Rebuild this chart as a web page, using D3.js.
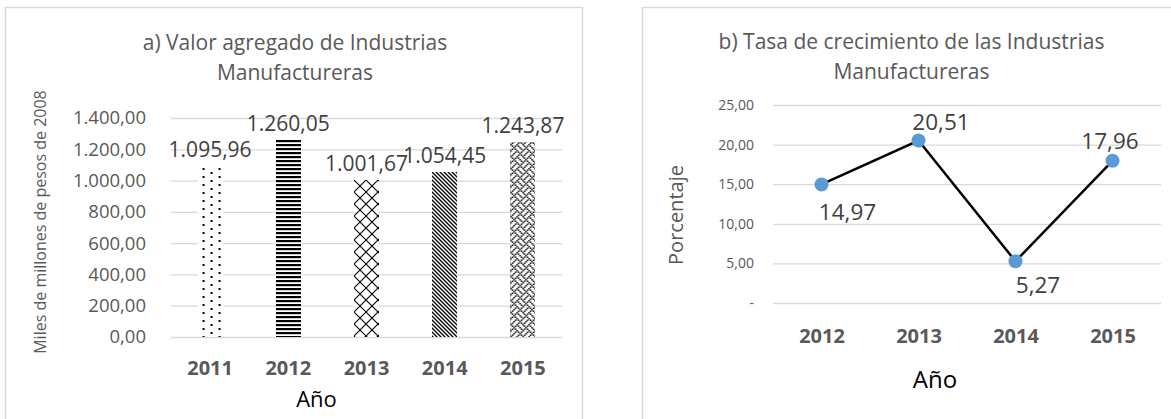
<!DOCTYPE html>
<html>
<head>
<meta charset="utf-8"/>
<title>Industrias Manufactureras</title>
<script src="https://cdn.jsdelivr.net/npm/d3@7"></script>
<style>
html, body {
    margin: 0;
    padding: 0;
    background: #ffffff;
}
svg text {
    font-family: "Open Sans", sans-serif;
}
.grid line {
    stroke: #d9d9d9;
    stroke-width: 1.3px;
}
.grid .domain {
    display: none;
}
</style>
</head>
<body>

<svg id="chart" width="1171" height="419"></svg>

<script>

// a) valor agregado (miles de millones de pesos de 2008)
var yearsA = ["2011", "2012", "2013", "2014", "2015"];
var valorAgregado = [1095.96, 1260.05, 1001.67, 1054.45, 1243.87];
var ticksA = [0, 200, 400, 600, 800, 1000, 1200, 1400];

// b) tasa de crecimiento (%)
var yearsB = ["2012", "2013", "2014", "2015"];
var tasa = [14.97, 20.51, 5.27, 17.96];
var ticksB = [0, 5, 10, 15, 20, 25];

var es = d3.formatLocale({decimal: ",", thousands: ".", grouping: [3], currency: ["", ""]});
var fmt = es.format(",.2f");

var svg = d3.select("#chart");
var defs = svg.append("defs");

// Panel frames (they run past the bottom edge of the picture).
svg.append("rect").attr("x", 5.5).attr("y", 7.5).attr("width", 577).attr("height", 430)
    .attr("fill", "none").attr("stroke", "#d9d9d9").attr("stroke-width", 1.5);
svg.append("rect").attr("x", 642.5).attr("y", 7.5).attr("width", 560).attr("height", 430)
    .attr("fill", "none").attr("stroke", "#d9d9d9").attr("stroke-width", 1.5);

// ---------- a) bars ----------
var xA = d3.scaleBand().domain(yearsA).range([171, 562]).paddingInner(0.68).paddingOuter(0.34);
var yA = d3.scaleLinear().domain([0, 1400]).range([337, 118]);

// fill patterns, one per bar
function pattern(id, w, h) {
    var p = defs.append("pattern").attr("id", id)
        .attr("patternUnits", "userSpaceOnUse")
        .attr("width", w).attr("height", h);
    p.append("rect").attr("width", w).attr("height", h).attr("fill", "#fff");
    return p;
}
var p0 = pattern("p2011", 16, 8).attr("x", xA("2011") + 5);
p0.append("rect").attr("x", 0).attr("y", 0).attr("width", 2).attr("height", 2);
p0.append("rect").attr("x", 8).attr("y", 4).attr("width", 2).attr("height", 2);

var p1 = pattern("p2012", 4, 4);
p1.append("rect").attr("x", 0).attr("y", 0).attr("width", 4).attr("height", 2.2);

var p2 = pattern("p2013", 12, 12).attr("x", xA("2013"));
p2.append("path").attr("d", "M0,0L12,12M12,0L0,12").attr("stroke", "#000").attr("stroke-width", 1.1);

var p3 = pattern("p2014", 4, 4);
p3.append("path").attr("d", "M-1,-1L5,5M-1,3L1,5M3,-1L5,1").attr("stroke", "#000").attr("stroke-width", 1.3);

var weave = ["10001000", "01010100", "00100010", "01010001", "10001000", "00010101", "00100010", "01000101"];
var p4 = pattern("p2015", 12, 12).attr("x", xA("2015"));
weave.forEach(function(row, j) {
    for (let i = 0; i < row.length; i++) {
        if (row[i] == "1") {
            p4.append("rect").attr("x", i * 1.5).attr("y", j * 1.5).attr("width", 1.5).attr("height", 1.5);
        }
    }
});

svg.append("g")
    .attr("class", "grid")
    .attr("transform", "translate(171,0)")
    .call(d3.axisLeft(yA).tickValues(ticksA).tickSize(-(562 - 171)).tickPadding(25).tickFormat(fmt))
    .call(g => g.selectAll("text").attr("fill", "#595959").style("font-size", "18.5px"));

svg.append("g").selectAll("rect")
    .data(valorAgregado)
    .join("rect")
    .attr("x", (d, i) => xA(yearsA[i]))
    .attr("y", d => yA(d))
    .attr("width", xA.bandwidth())
    .attr("height", d => yA(0) - yA(d))
    .attr("fill", (d, i) => "url(#p" + yearsA[i] + ")")
    .attr("shape-rendering", "crispEdges");

svg.append("g").selectAll("text")
    .data(valorAgregado)
    .join("text")
    .attr("x", (d, i) => xA(yearsA[i]) + xA.bandwidth() / 2)
    .attr("y", d => yA(d) - 9)
    .attr("text-anchor", "middle")
    .attr("fill", "#404040")
    .style("font-size", "21px")
    .text(d => fmt(d));

svg.append("g")
    .attr("transform", "translate(0,375)")
    .call(d3.axisBottom(xA).tickSize(0).tickPadding(0))
    .call(g => g.select(".domain").remove())
    .call(g => g.selectAll("text").attr("dy", 0).attr("fill", "#595959")
        .style("font-size", "20px").style("font-weight", "bold"));

svg.append("text").attr("x", 295).attr("y", 50).attr("text-anchor", "middle")
    .attr("fill", "#595959").style("font-size", "21px").text("a) Valor agregado de Industrias");
svg.append("text").attr("x", 295).attr("y", 80).attr("text-anchor", "middle")
    .attr("fill", "#595959").style("font-size", "21px").text("Manufactureras");
svg.append("text").attr("transform", "translate(46,222) rotate(-90)").attr("text-anchor", "middle")
    .attr("fill", "#595959").style("font-size", "16px").text("Miles de millones de pesos de 2008");
svg.append("text").attr("x", 316.5).attr("y", 407).attr("text-anchor", "middle")
    .attr("fill", "#000").style("font-size", "22px").text("Año");

// ---------- b) line ----------
var xB = d3.scalePoint().domain(yearsB).range([773, 1161]).padding(0.5);
var yB = d3.scaleLinear().domain([0, 25]).range([303, 105]);

svg.append("g")
    .attr("class", "grid")
    .attr("transform", "translate(773,0)")
    .call(d3.axisLeft(yB).tickValues(ticksB).tickSize(-(1161 - 773)).tickPadding(19)
        .tickFormat(d => d == 0 ? "-" : fmt(d)))
    .call(g => g.selectAll("text").attr("fill", "#595959").style("font-size", "14px"));

var line = d3.line()
    .x((d, i) => xB(yearsB[i]))
    .y(d => yB(d));

svg.append("path")
    .attr("d", line(tasa))
    .attr("fill", "none")
    .attr("stroke", "#000")
    .attr("stroke-width", 2.5);

svg.append("g").selectAll("circle")
    .data(tasa)
    .join("circle")
    .attr("cx", (d, i) => xB(yearsB[i]))
    .attr("cy", d => yB(d))
    .attr("r", 7)
    .attr("fill", "#5b9bd5");

// labels were moved by hand in the original, so keep the shifts
var labelShift = [[26, 28], [22.5, -18], [22.5, 24], [-2.5, -19.5]];
svg.append("g").selectAll("text")
    .data(tasa)
    .join("text")
    .attr("x", (d, i) => xB(yearsB[i]) + labelShift[i][0])
    .attr("y", (d, i) => yB(d) + labelShift[i][1])
    .attr("dy", "0.35em")
    .attr("text-anchor", "middle")
    .attr("fill", "#404040")
    .style("font-size", "22.5px")
    .text(d => fmt(d));

svg.append("g")
    .attr("transform", "translate(0,343)")
    .call(d3.axisBottom(xB).tickSize(0).tickPadding(0))
    .call(g => g.select(".domain").remove())
    .call(g => g.selectAll("text").attr("dy", 0).attr("fill", "#595959")
        .style("font-size", "20px").style("font-weight", "bold"));

svg.append("text").attr("x", 911.5).attr("y", 49).attr("text-anchor", "middle")
    .attr("fill", "#595959").style("font-size", "21px").text("b) Tasa de crecimiento de las Industrias");
svg.append("text").attr("x", 911.5).attr("y", 79).attr("text-anchor", "middle")
    .attr("fill", "#595959").style("font-size", "21px").text("Manufactureras");
svg.append("text").attr("transform", "translate(683,215) rotate(-90)").attr("text-anchor", "middle")
    .attr("fill", "#595959").style("font-size", "20px").text("Porcentaje");
svg.append("text").attr("x", 935).attr("y", 388).attr("text-anchor", "middle")
    .attr("fill", "#000").style("font-size", "24px").text("Año");

</script>

</body>
</html>
